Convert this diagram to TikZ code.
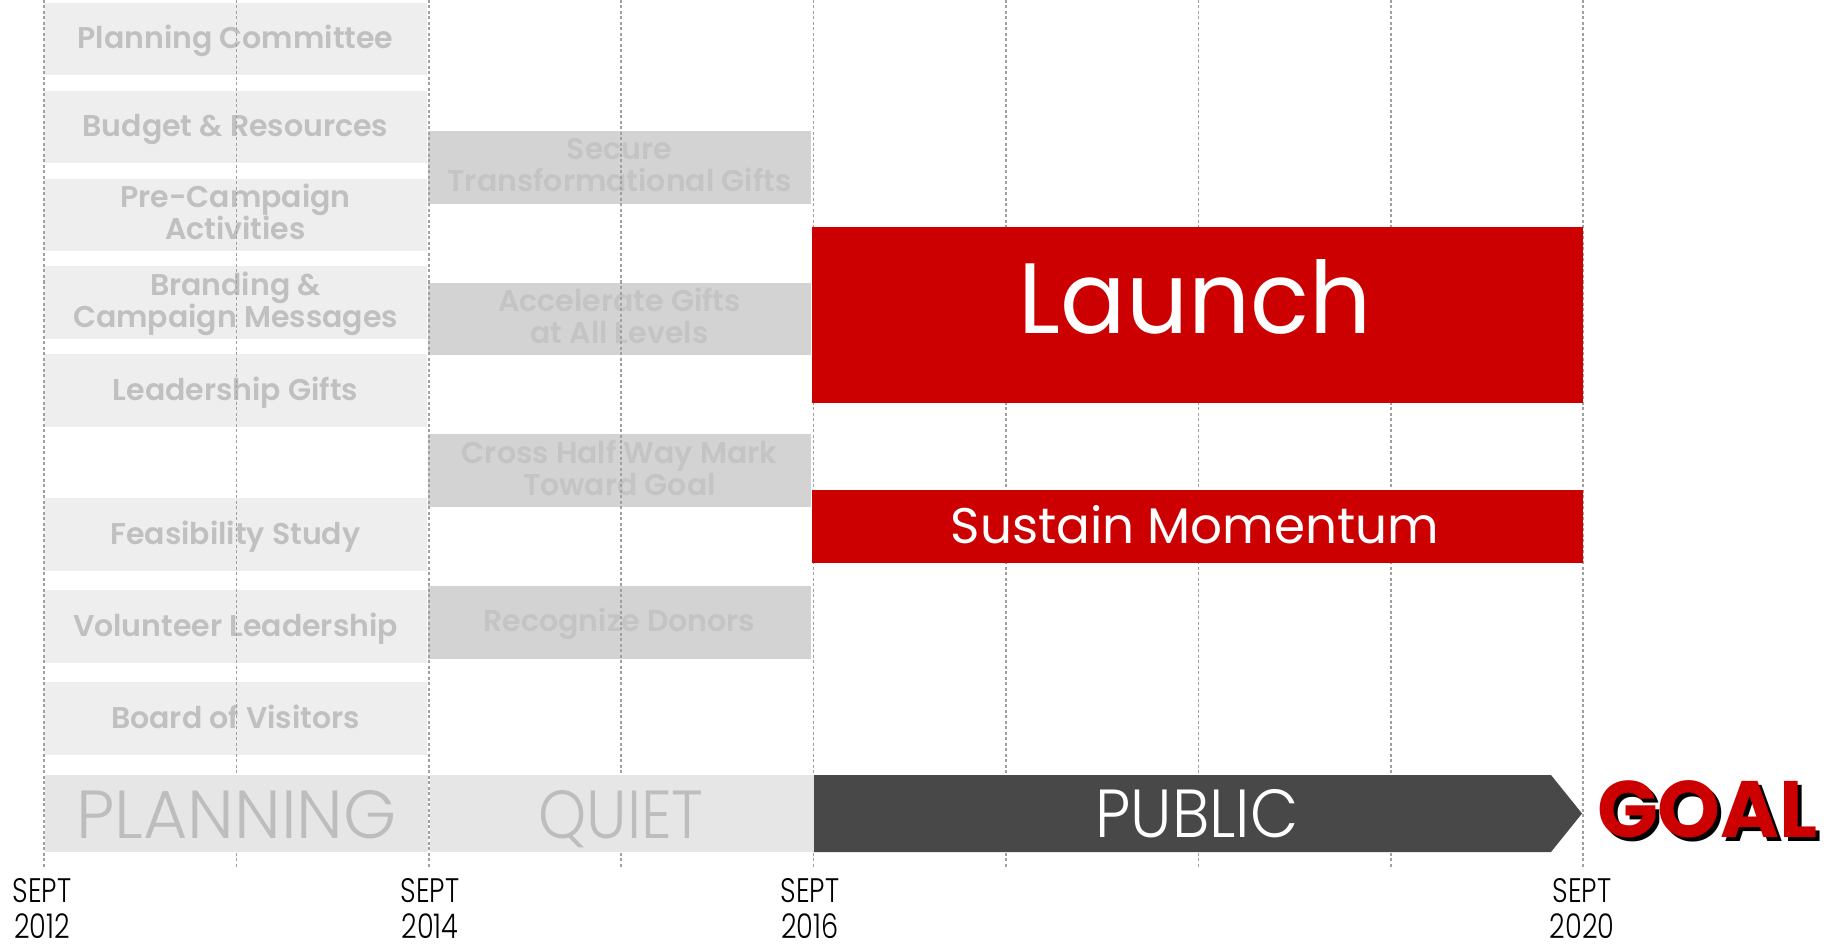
\documentclass[tikz,border=0pt]{standalone}
\usepackage{fontspec}
\setmainfont{Poppins}
\IfFontExistsTF{Poppins Light}{\newfontfamily\lightf{Poppins Light}}{\newfontfamily\lightf{Poppins}}
\IfFontExistsTF{Poppins SemiBold}{\newfontfamily\semif{Poppins SemiBold}}{\newcommand\semif{\bfseries}}
\definecolor{lboxc}{HTML}{EEEEEE}
\definecolor{mboxc}{HTML}{D3D3D3}
\definecolor{gtext}{HTML}{C0C0C0}
\definecolor{mtext}{HTML}{C4C4C4}
\definecolor{redc}{HTML}{CC0000}
\definecolor{barc}{HTML}{E6E6E6}
\definecolor{bartext}{HTML}{BDBDBD}
\definecolor{darkc}{HTML}{484848}
\definecolor{gridc}{HTML}{A0A0A0}
\tikzset{
  lbox/.style={fill=lboxc, minimum width=383pt, minimum height=72.5pt, inner sep=0pt},
  mbox/.style={fill=mboxc, minimum width=383pt, minimum height=72.5pt, inner sep=0pt},
  gtxt/.style={anchor=base, inner sep=0pt, text=gtext, align=center, font=\fontsize{30}{32}\selectfont\semif},
  mtxt/.style={gtxt, text=mtext},
  redbox/.style={fill=redc, inner sep=0pt},
  gridline/.style={draw=gridc, line width=1.6pt, dash pattern=on 3pt off 2.5pt},
  phase/.style={anchor=base, inner sep=0pt, font=\fontsize{68}{68}\selectfont\lightf},
  datelbl/.style={anchor=base, inner sep=0pt, font=\fontsize{34}{38}\selectfont\lightf},
}
\newcommand\squeeze[1]{\scalebox{0.8}[1]{#1}}
\begin{document}
\begin{tikzpicture}[x=1pt,y=-1pt]
\useasboundingbox (0,0) rectangle (1829,944);
% left column
\foreach \n/\cy/\t/\two in {
  b1/39/{Planning Committee}/0,
  b2/127/{Budget \& Resources}/0,
  b3/215/{Pre-Campaign\\Activities}/1,
  b4/302.5/{Branding \&\\Campaign Messages}/1,
  b5/390.5/{Leadership Gifts}/0,
  b6/534.5/{Feasibility Study}/0,
  b7/626.5/{Volunteer Leadership}/0,
  b8/718.5/{Board of Visitors}/0}{
  \node[lbox] (\n) at (235.5,\cy) {};
  \ifnum\two=1
    \node[gtxt] (\n t) at ([yshift=-24.5pt]\n.center) {\t};
  \else
    \node[gtxt] (\n t) at ([yshift=-9.5pt]\n.center) {\t};
  \fi
}
% middle column
\foreach \n/\cy/\t/\two in {
  m1/167.5/{Secure\\Transformational Gifts}/1,
  m2/319/{Accelerate Gifts\\at All Levels}/1,
  m3/470.5/{Cross Half Way Mark\\Toward Goal}/1,
  m4/622.5/{Recognize Donors}/0}{
  \node[mbox] (\n) at (619.5,\cy) {};
  \ifnum\two=1
    \node[mtxt] (\n t) at ([yshift=-24.5pt]\n.center) {\t};
  \else
    \node[mtxt] (\n t) at ([yshift=-8.5pt]\n.center) {\t};
  \fi
}
% grid lines
\foreach \k in {0,...,8}{
  \coordinate (g\k a) at (44+192.4*\k,0);
  \coordinate (g\k b) at (44+192.4*\k,868);
  \draw[gridline] (g\k a) -- (g\k b);
}
% red boxes
\node[redbox, minimum width=771pt, minimum height=176pt] (launch) at (1197.5,315) {};
\node[anchor=base, inner sep=0pt, text=white, font=\fontsize{100}{100}\selectfont] (launcht) at (1195,333) {\scalebox{0.97}[1]{Launch}};
\node[redbox, minimum width=771pt, minimum height=73pt] (sustain) at (1197.5,526.5) {};
\node[anchor=base, inner sep=0pt, text=white, font=\fontsize{50}{50}\selectfont] (sustaint) at (1195,543) {Sustain Momentum};
% bottom bar
\node[fill=barc, minimum width=383pt, minimum height=77pt, inner sep=0pt] (planbar) at (236.5,813.5) {};
\node[phase, text=bartext] (plant) at (236.5,838) {PLANNING};
\node[fill=barc, minimum width=384pt, minimum height=77pt, inner sep=0pt] (quietbar) at (622,813.5) {};
\node[phase, text=bartext] (quiett) at (621,838) {\scalebox{0.9}[1]{QUIET}};
\fill[darkc] (814,775) -- (1551,775) -- (1582,813.5) -- (1551,852) -- (814,852) -- cycle;
\node[phase, text=white] (publict) at (1197,837) {\scalebox{0.92}[1]{PUBLIC}};
% GOAL with shadow
\node[anchor=base, inner sep=0pt, text=redc, font=\fontsize{80}{80}\selectfont\bfseries] (goal) at (1707.5,837)
  {\makebox[0pt][l]{\hspace{4pt}\raisebox{-4pt}{\color{black}GOAL}}GOAL};
% dates
\node[datelbl] (d1) at (42,902) {\squeeze{SEPT}};
\node[datelbl] (d1y) at (42,938.5) {\squeeze{2012}};
\node[datelbl] (d2) at (430,902) {\squeeze{SEPT}};
\node[datelbl] (d2y) at (430,938.5) {\squeeze{2014}};
\node[datelbl] (d3) at (810,902) {\squeeze{SEPT}};
\node[datelbl] (d3y) at (810,938.5) {\squeeze{2016}};
\node[datelbl] (d4) at (1582,902) {\squeeze{SEPT}};
\node[datelbl] (d4y) at (1582,938.5) {\squeeze{2020}};
\end{tikzpicture}
\end{document}
